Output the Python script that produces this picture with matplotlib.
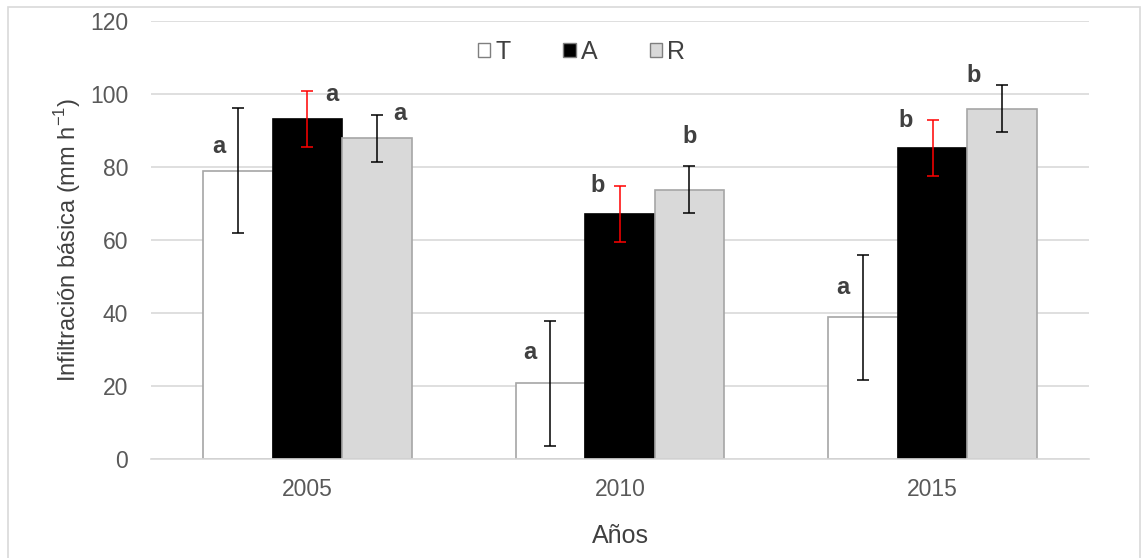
import matplotlib
matplotlib.use("Agg")
import matplotlib.pyplot as plt
import numpy as np
from matplotlib.patches import Patch, Rectangle

plt.rcParams["font.family"] = ["Liberation Sans", "DejaVu Sans"]

years = ["2005", "2010", "2015"]
treatments = ["T", "A", "R"]

# mean basic infiltration (mm/h) and error per treatment
means = {
    "T": [79.0, 20.8, 38.8],
    "A": [93.2, 67.1, 85.2],
    "R": [87.9, 73.8, 96.0],
}
errors = {
    "T": [17.2, 17.1, 17.1],
    "A": [7.6, 7.7, 7.8],
    "R": [6.4, 6.4, 6.5],
}
letters = {
    "T": ["a", "a", "a"],
    "A": ["a", "b", "b"],
    "R": ["a", "b", "b"],
}

fills = {"T": "white", "A": "black", "R": "#d9d9d9"}
edges = {"T": "#a6a6a6", "A": "black", "R": "#a6a6a6"}
err_colors = {"T": "black", "A": "red", "R": "black"}
# letter placement: (x shift in category units, y above error-bar top)
letter_dx = {
    "T": [-0.06, -0.065, -0.065],
    "A": [0.08, -0.07, -0.085],
    "R": [0.075, 0.0, -0.09],
}
letter_dy = {
    "T": [-10.5, -8.8, -8.9],
    "A": [-1.0, 0.0, -0.3],
    "R": [0.3, 8.2, 2.5],
}

text_grey = "#595959"
grid_grey = "#d9d9d9"

fig = plt.figure(figsize=(11.43, 5.58), dpi=100)
ax = fig.add_axes([0.1321, 0.1774, 0.8206, 0.785])

x = np.arange(len(years))
width = 1 / 4.5
for i, t in enumerate(treatments):
    pos = x + (i - 1) * width
    ax.bar(pos, means[t], width, color=fills[t], edgecolor=edges[t],
           linewidth=1.2, zorder=2)
    ax.errorbar(pos, means[t], yerr=errors[t], fmt="none",
                ecolor=err_colors[t], elinewidth=1.1, capsize=4.5,
                capthick=1.1, zorder=3)
    for j in range(len(years)):
        top = means[t][j] + errors[t][j]
        ax.text(pos[j] + letter_dx[t][j], top + letter_dy[t][j],
                letters[t][j], ha="center", va="center", fontsize=17,
                fontweight="bold", color="#404040")

ax.set_xlim(-0.5, 2.5)
ax.set_ylim(0, 120)
ax.set_yticks(np.arange(0, 121, 20))
ax.set_xticks(x)
ax.set_xticklabels(years)
ax.tick_params(length=0, labelsize=16.5, colors=text_grey)
ax.tick_params(axis="y", pad=16.5)
ax.tick_params(axis="x", pad=14)
ax.grid(axis="y", color=grid_grey, linewidth=1.2, zorder=0)
ax.set_axisbelow(True)
for side in ("top", "right", "left"):
    ax.spines[side].set_visible(False)
ax.spines["bottom"].set_color(grid_grey)
ax.spines["bottom"].set_linewidth(1.2)

ax.set_ylabel("Infiltración básica (mm h$^{\\mathregular{-1}}$)", fontsize=17,
              color="#404040", labelpad=5)
ax.set_xlabel("Años", fontsize=18, color="#404040", labelpad=16)

handles = [Patch(facecolor=fills[t], edgecolor="#7f7f7f", linewidth=1.0)
           for t in treatments]
leg = ax.legend(handles, treatments, ncol=3, loc="center",
                bbox_to_anchor=(0.459, 0.929), frameon=False, fontsize=18,
                handlelength=0.5, handleheight=0.5, handletextpad=0.2,
                columnspacing=2.1, labelcolor="#404040")

# light frame around the whole chart
fig.patches.append(Rectangle((8 / 1143, -0.05), 1132 / 1143, 1.05 - 7 / 558,
                             transform=fig.transFigure, fill=False,
                             edgecolor=grid_grey, linewidth=1.2))

fig.savefig("out.png", dpi=100)
